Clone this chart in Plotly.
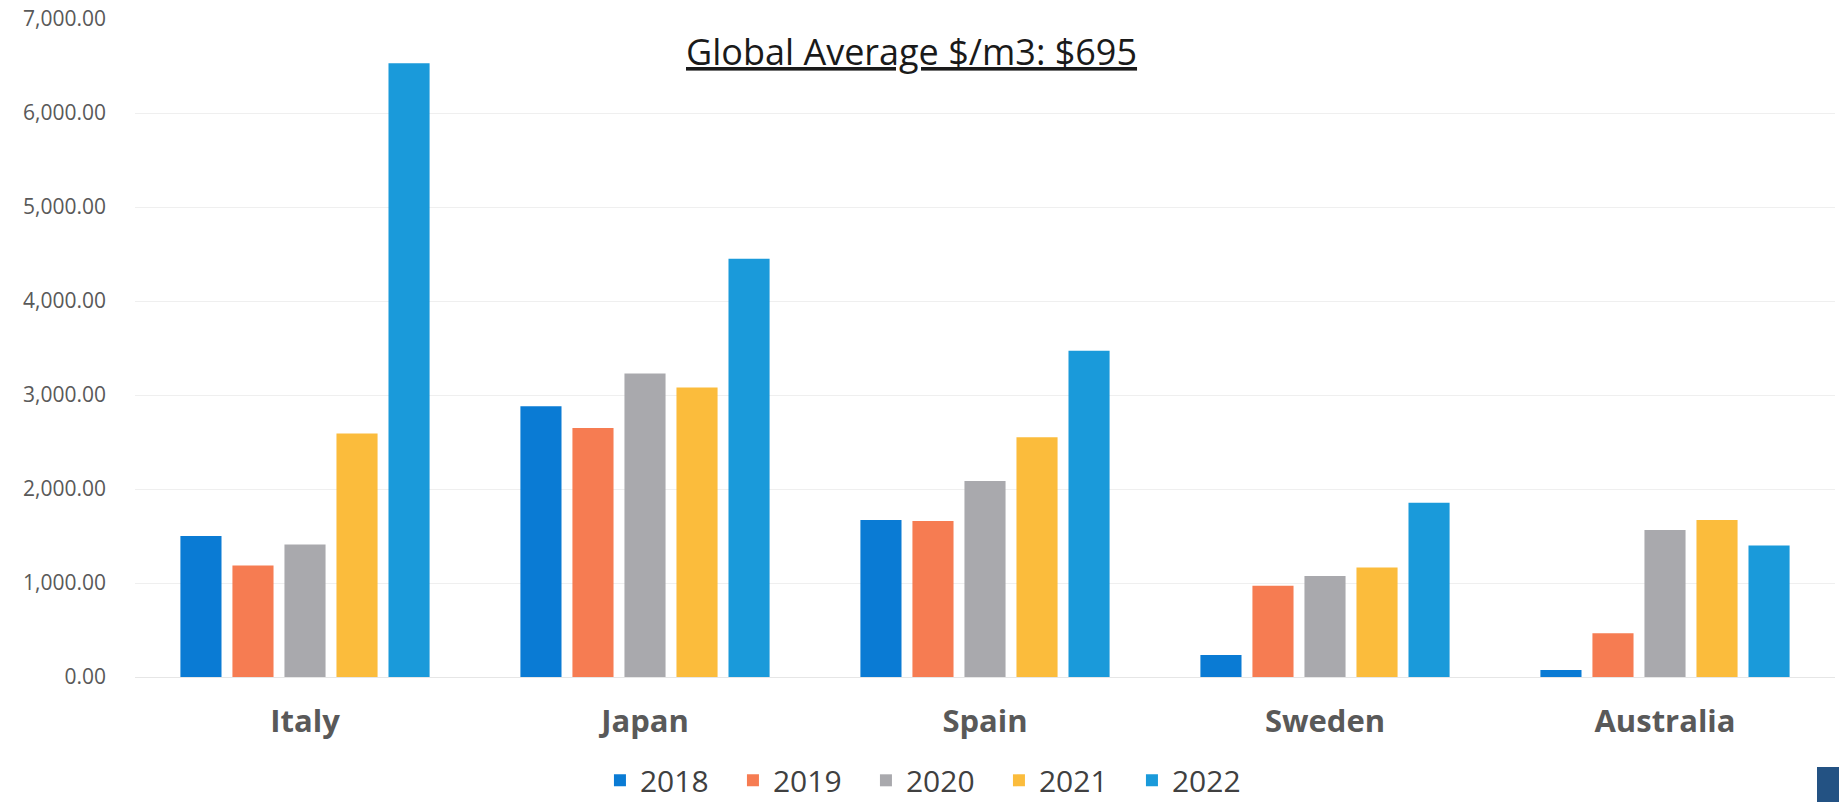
import plotly.graph_objects as go

# Countries and yearly average price ($/m3)
countries = ["Italy", "Japan", "Spain", "Sweden", "Australia"]
years = ["2018", "2019", "2020", "2021", "2022"]

v2018 = [1500, 2880, 1670, 235, 75]
v2019 = [1185, 2650, 1660, 970, 465]
v2020 = [1410, 3230, 2085, 1075, 1565]
v2021 = [2590, 3080, 2550, 1165, 1670]
v2022 = [6530, 4450, 3470, 1855, 1400]

series = [v2018, v2019, v2020, v2021, v2022]
colors = ["#0A7BD4", "#F67C52", "#A9A9AD", "#FBBC3C", "#1A9ADA"]

y_ticks = [0, 1000, 2000, 3000, 4000, 5000, 6000, 7000]
y_tick_text = [f"{v:,.2f}" for v in y_ticks]

title_text = "Global Average $/m3: $695"

fig = go.Figure()
for name, vals, col in zip(years, series, colors):
    fig.add_trace(go.Bar(name=name, x=countries, y=vals, marker_color=col,
                         marker_line_width=0))

fig.update_layout(
    width=1839, height=802,
    margin=dict(l=135, r=4, t=19, b=125, autoexpand=False),
    paper_bgcolor="white", plot_bgcolor="white",
    barmode="group", bargap=0.235, bargroupgap=0.21,
    font=dict(family="Open Sans, sans-serif", color="#595959"),
    showlegend=True,
    legend=dict(orientation="h", x=0.2735, xanchor="left", y=-0.157, yanchor="middle",
                font=dict(size=30, color="#404040"), traceorder="normal",
                itemwidth=30, entrywidth=88, entrywidthmode="pixels",
                bgcolor="rgba(0,0,0,0)"),
    annotations=[dict(text=f"<u>{title_text}</u>", xref="paper", yref="paper",
                      x=(911 - 135) / 1700, y=(677 - 51) / 658,
                      xanchor="center", yanchor="middle", showarrow=False,
                      font=dict(size=36, color="#1a1a1a"))],
    shapes=[dict(type="rect", xref="paper", yref="paper",
                 x0=(1817 - 135) / 1700, x1=1.01, y0=-0.2, y1=(677 - 767) / 658,
                 fillcolor="#235283", line_width=0, layer="above")],
)

fig.update_xaxes(showgrid=False, showline=False, zeroline=False, ticks="",
                 automargin=False,
                 tickfont=dict(size=31, color="#595959", family="Open Sans, sans-serif",
                               weight="bold"),
                 ticklabelstandoff=23)
fig.update_yaxes(range=[0, 7000], tickvals=y_ticks, ticktext=y_tick_text,
                 automargin=False,
                 showgrid=True, gridcolor="#EFEFEF", gridwidth=1,
                 zeroline=True, zerolinecolor="#E6E6E6", zerolinewidth=1,
                 showline=False, ticks="", tickfont=dict(size=21, color="#595959"),
                 ticklabelstandoff=28)

fig.write_html("out.html")
